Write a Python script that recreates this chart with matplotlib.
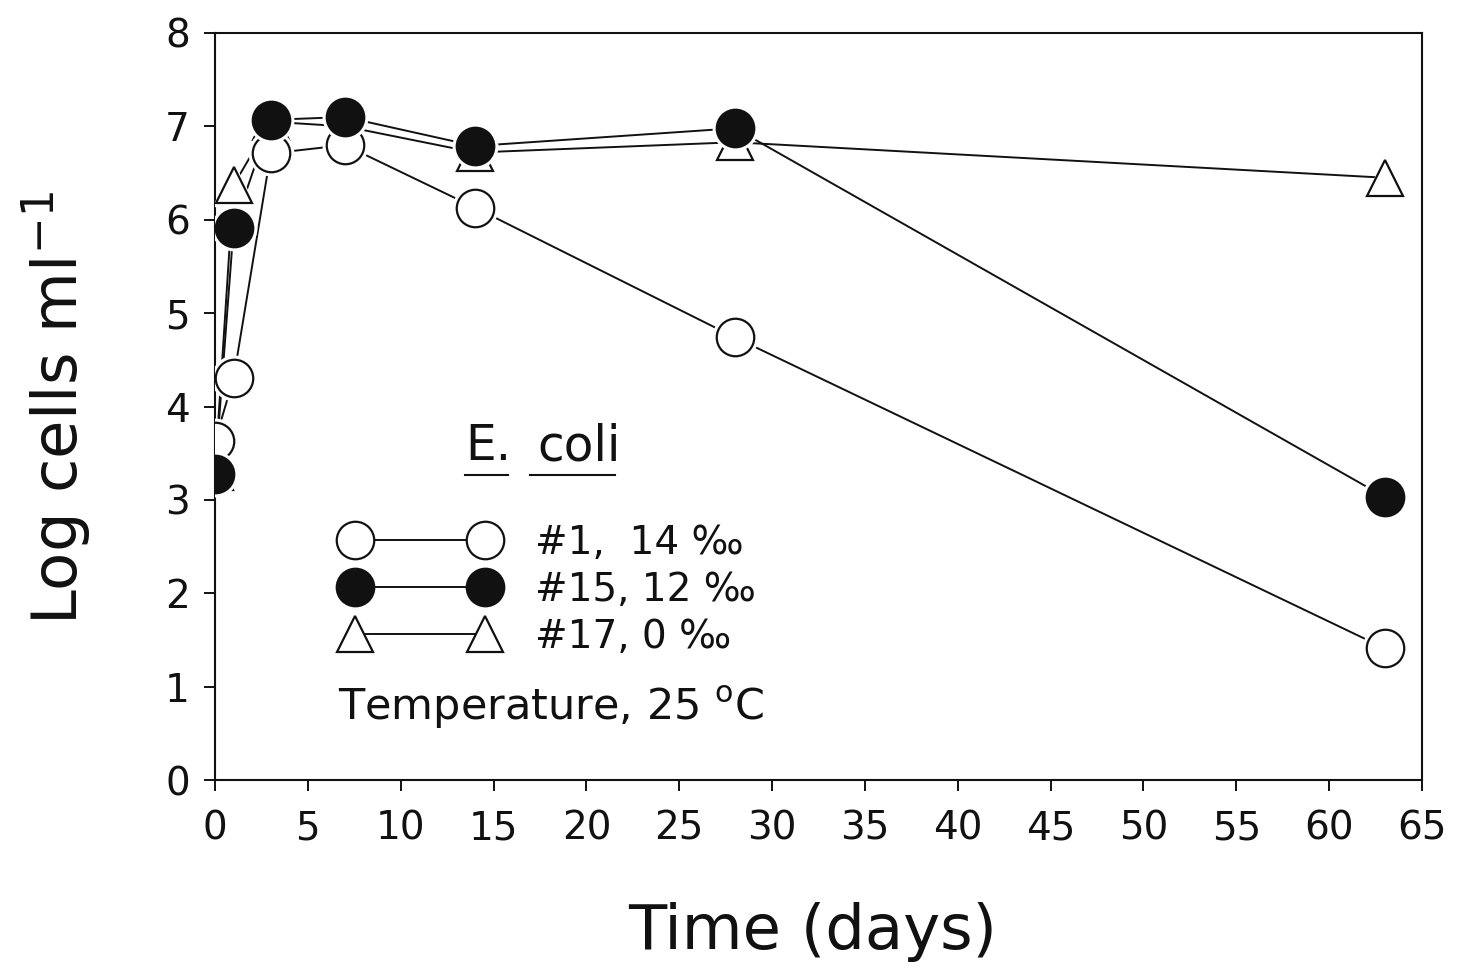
"""
E. coli 存活曲線:三個水樣於 25 °C 下的 Log cells/ml 隨時間變化
輸出:out.png
"""
import matplotlib.pyplot as plt
from matplotlib import rcParams
import numpy as np

rcParams["font.family"] = ["DejaVu Sans"]
rcParams["mathtext.default"] = "regular"

# ====== 資料 ======
days = [0, 1, 3, 7, 14, 28, 63]
s1_14 = [3.63, 4.30, 6.71, 6.80, 6.13, 4.74, 1.41]     # #1, 14 ‰  (open circle)
s15_12 = [3.28, 5.91, 7.07, 7.10, 6.79, 6.98, 3.03]    # #15, 12 ‰ (filled circle)
s17_0 = [3.30, 6.37, 7.05, 7.00, 6.72, 6.83, 6.45]     # #17, 0 ‰  (triangle)

labels = ["#1,  14 ‰", "#15, 12 ‰", "#17, 0 ‰"]
xticks = np.arange(0, 66, 5)
yticks = np.arange(0, 9, 1)

ink = "#111111"
ms = 27

# ========== 畫圖 ==========
fig = plt.figure(figsize=(14.57, 9.73), dpi=100)
ax = fig.add_axes([215 / 1457, 1 - 780 / 973, 1207 / 1457, 747 / 973])

styles = [
    (s17_0, "^", "white", ms * 0.95),
    (s1_14, "o", "white", ms),
    (s15_12, "o", ink, ms),
]
for i, (vals, mk, fc, size) in enumerate(styles):
    ax.plot(days, vals, color=ink, linewidth=1.4, zorder=2)
    # 白色外框,讓連線在符號前斷開
    ax.plot(days, vals, linestyle="none", marker=mk, markersize=size + 5,
            markerfacecolor="white", markeredgecolor="white", zorder=3 + 2 * i)
    ax.plot(days, vals, linestyle="none", marker=mk,
            markersize=size, markerfacecolor=fc, markeredgecolor=ink,
            markeredgewidth=1.6, zorder=4 + 2 * i)

ax.set_xlim(0, 65)
ax.set_ylim(0, 8)
ax.set_xticks(xticks)
ax.set_yticks(yticks)
ax.tick_params(direction="out", length=8, width=1.4, color=ink,
               labelsize=28, labelcolor=ink)
ax.tick_params(axis="x", pad=13)
ax.tick_params(axis="y", pad=10)
for sp in ax.spines.values():
    sp.set_linewidth(1.5)
    sp.set_color(ink)

# --- 圖例 ---
leg_lines = []
for vals, mk, fc, size in [styles[1], styles[2], styles[0]]:
    ln, = ax.plot([], [], color=ink, linewidth=1.4, marker=mk, markersize=size,
                  markerfacecolor=fc, markeredgecolor=ink, markeredgewidth=1.6)
    leg_lines.append(ln)
leg = ax.legend(leg_lines, labels, loc="upper left",
                bbox_to_anchor=(0.106, 0.343), borderaxespad=0, borderpad=0,
                frameon=False, numpoints=2, handlelength=3.95,
                handletextpad=1.0, labelspacing=0.23, fontsize=28)
for t in leg.get_texts():
    t.set_color(ink)

ax.text(0.207, 0.428, "E.", transform=ax.transAxes, fontsize=35,
        color=ink, va="baseline", ha="left")
ax.text(0.267, 0.428, "coli", transform=ax.transAxes, fontsize=35,
        color=ink, va="baseline", ha="left")
ax.plot([0.207, 0.243], [0.408, 0.408], transform=ax.transAxes,
        color=ink, linewidth=1.5, clip_on=False)
ax.plot([0.261, 0.331], [0.408, 0.408], transform=ax.transAxes,
        color=ink, linewidth=1.5, clip_on=False)
ax.text(0.102, 0.080, "Temperature, 25 $^{o}$C", transform=ax.transAxes,
        fontsize=31, color=ink, va="baseline", ha="left")

fig.text(57 / 1457, 1 - 408 / 973, "Log cells ml$^{-1}$", rotation=90,
         ha="center", va="center", fontsize=45, color=ink)
fig.text(813 / 1457, 1 - 932 / 973, "Time (days)", ha="center", va="center",
         fontsize=45, color=ink)

plt.savefig("out.png", dpi=100, facecolor="white")
plt.close()
